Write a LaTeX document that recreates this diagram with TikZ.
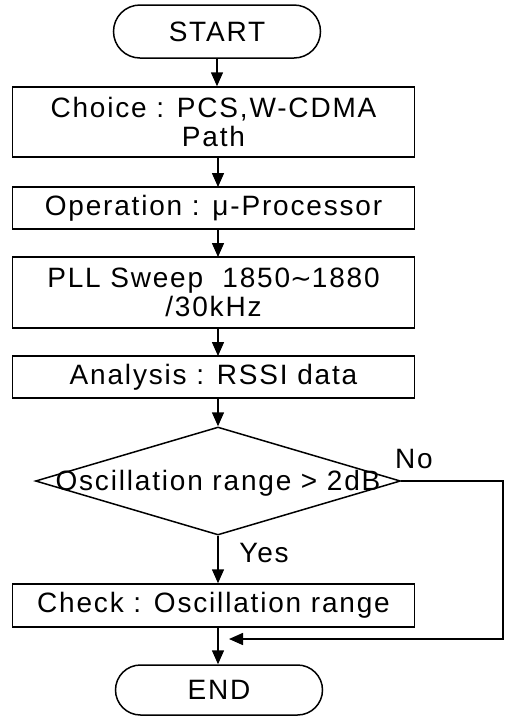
\documentclass[tikz,border=0pt]{standalone}
\usepackage{fontspec}
\setmainfont{Liberation Sans}[LetterSpace=6.5]
\newfontfamily\symfont{DejaVu Sans}
\usetikzlibrary{arrows.meta,shapes.geometric,shapes.misc}
\begin{document}
\begin{tikzpicture}[x=1pt,y=-1pt,
  every node/.style={font=\fontsize{28}{29}\selectfont, inner sep=0pt, align=center},
  box/.style={draw, line width=1.5pt, minimum width=402pt},
  term/.style={draw, line width=1.5pt, rounded rectangle, minimum width=207pt},
  flow/.style={line width=1.5pt, -{Triangle[width=12pt,length=14pt]}},
  lbl/.style={font=\fontsize{28}{29}\selectfont}]
\useasboundingbox (0,0) rectangle (506,716);
\node[term, minimum height=53pt] (start) at (217,31.5) {START};
\node[box, minimum height=70pt] (choice) at (213.5,122) {Choice : PCS,W-CDMA\\Path};
\node[box, minimum height=42pt] (oper) at (213.5,208) {Operation : μ-Processor};
\node[box, minimum height=71pt] (pll) at (213.5,292.5) {PLL Sweep\ \ 1850{\symfont\fontsize{26}{29}\selectfont ∼}1880\\/30kHz};
\node[box, minimum height=42pt] (anal) at (213.5,377) {Analysis : RSSI data};
\node[diamond, draw, line width=1.5pt, minimum width=365pt, minimum height=108pt] (dec) at (218,481) {};
\node (dectext) at (218,483) {Oscillation range > 2dB};
\node[box, minimum height=43pt] (check) at (213.5,605.5) {Check : Oscillation range};
\node[term, minimum height=50pt] (end) at (219,690) {END};
\node[lbl] (no) at (414,459) {No};
\node[lbl] (yes) at (264,553) {Yes};
\coordinate (c1) at (503,481);
\coordinate (c2) at (503,639);
\coordinate (c3) at (229,639);
\draw[flow] (start.south) -- (start.south |- choice.north);
\draw[flow] (218,157) -- (218,187);
\draw[flow] (218,229) -- (218,257);
\draw[flow] (218,328) -- (218,356);
\draw[flow] (218,398) -- (dec.north);
\draw[flow] (dec.south) -- (dec.south |- check.north);
\draw[flow] (dec.south |- check.south) -- (dec.south |- end.north);
\draw[flow] (dec.east) -- (c1) -- (c2) -- (c3);
\end{tikzpicture}
\end{document}
